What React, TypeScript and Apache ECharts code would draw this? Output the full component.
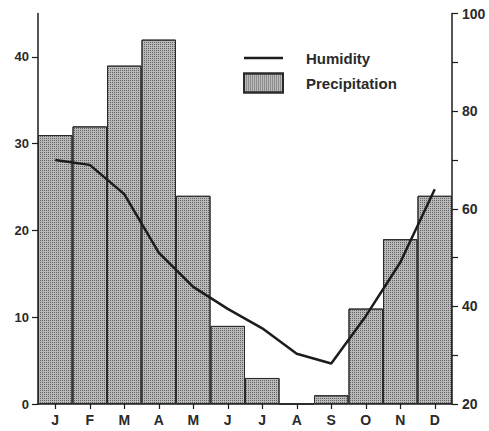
import React, { useEffect, useRef } from "react";
import * as echarts from "echarts";

const months = ["J", "F", "M", "A", "M", "J", "J", "A", "S", "O", "N", "D"];
const precipitation = [31, 32, 39, 42, 24, 9, 3, 0, 1, 11, 19, 24];
const humidity = [70, 69, 63, 51, 44, 39.5, 35.5, 30.3, 28.3, 38, 49, 64];
const leftTicks = [0, 10, 20, 30, 40];

const FONT = "'Liberation Sans', Arial, Helvetica, sans-serif";
const INK = "#1c1c1c";
const TEXT = "#2a2a2a";

export default function App() {
  const ref = useRef<HTMLDivElement>(null);

  useEffect(() => {
    if (!ref.current) return;
    const chart = echarts.init(ref.current, null, { renderer: "svg" });
    const axisLine = { show: true, lineStyle: { color: INK, width: 1.5 } };
    const labelStyle = { color: TEXT, fontFamily: FONT, fontSize: 13, fontWeight: "bold" as const };
    chart.setOption({
      animation: false,
      backgroundColor: "#ffffff",
      grid: { left: 38, right: 37, top: 13.6, bottom: 27 },
      legend: {
        orient: "vertical",
        left: 243,
        top: 50.5,
        padding: 0,
        itemGap: 7,
        itemWidth: 39,
        itemHeight: 19,
        textStyle: { ...labelStyle, fontSize: 15, padding: [2, 0, 0, 18] },
        data: [
          {
            name: "Humidity",
            icon: "path://M0,0H100V6.5H0Z",
            itemStyle: { color: INK, borderWidth: 0 },
          },
          { name: "Precipitation", icon: "rect" },
        ],
      },
      xAxis: {
        type: "category",
        data: months,
        boundaryGap: true,
        axisLine,
        axisTick: { show: true, alignWithLabel: true, length: 5, lineStyle: { color: INK, width: 1.2 } },
        axisLabel: { ...labelStyle, fontSize: 14, margin: 9 },
        splitLine: { show: false },
      },
      yAxis: [
        {
          type: "value",
          position: "left",
          min: 0,
          max: 45,
          axisLine,
          axisTick: { show: true, length: 6, customValues: leftTicks, lineStyle: { color: INK, width: 1.2 } },
          axisLabel: { ...labelStyle, margin: 9, customValues: leftTicks },
          splitLine: { show: false },
        },
        {
          type: "value",
          position: "right",
          min: 20,
          max: 100,
          interval: 10,
          axisLine,
          axisTick: { show: true, length: 6, lineStyle: { color: INK, width: 1.2 } },
          axisLabel: {
            ...labelStyle,
            fontSize: 14,
            margin: 10,
            formatter: (v: number) => (v % 20 === 0 ? String(v) : ""),
          },
          splitLine: { show: false },
        },
      ],
      series: [
        {
          name: "Precipitation",
          type: "bar",
          yAxisIndex: 0,
          data: precipitation,
          barCategoryGap: "0%",
          itemStyle: {
            color: "#bababa",
            borderColor: "#2a2a2a",
            borderWidth: 1,
            decal: {
              symbol: "rect",
              symbolSize: 1,
              color: "#626262",
              dashArrayX: [1, 1],
              dashArrayY: [1, 1],
            },
          },
        },
        {
          name: "Humidity",
          type: "line",
          yAxisIndex: 1,
          data: humidity,
          symbol: "none",
          showSymbol: false,
          lineStyle: { color: INK, width: 2.5 },
          itemStyle: { color: INK },
          z: 5,
        },
      ],
    });
    return () => chart.dispose();
  }, []);

  return (
    <div
      ref={ref}
      style={{ position: "fixed", left: 0, top: 0, width: 489, height: 431 }}
    />
  );
}
